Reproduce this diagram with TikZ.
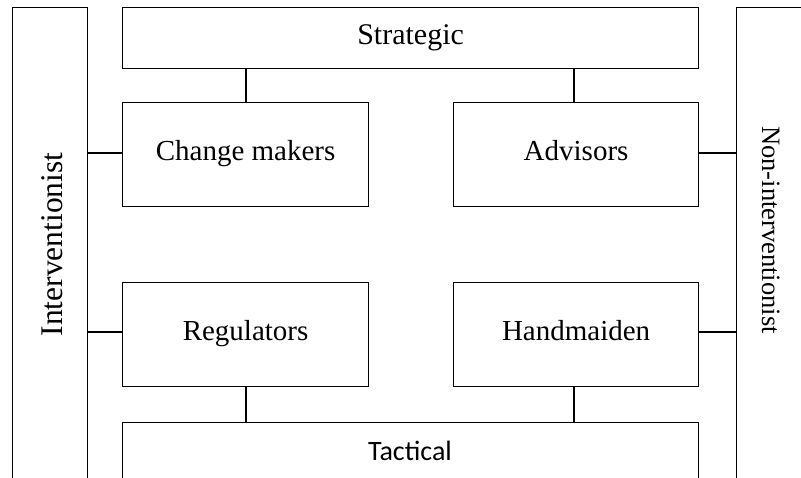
\documentclass[tikz,border=0pt]{standalone}
\usepackage{fontspec}
\setmainfont{Liberation Serif}
\newfontfamily\calib{Carlito}
\begin{document}
\begin{tikzpicture}[x=1pt,y=-1pt,
  box/.style={draw, line width=1.2pt, rectangle, inner sep=0pt, anchor=north west},
  lbl/.style={font=\fontsize{29}{34}\selectfont, inner sep=0pt, anchor=base},
  conn/.style={line width=1.2pt}]
\useasboundingbox (0,0) rectangle (801,477);
\clip (0,0) rectangle (801,477);
% side boxes
\node[box, minimum width=75pt, minimum height=490pt] (L) at (12,7) {};
\node[box, minimum width=75pt, minimum height=490pt] (R) at (736,7) {};
% main boxes
\node[box, minimum width=576pt, minimum height=61pt] (S) at (122,7) {};
\node[box, minimum width=246pt, minimum height=104pt] (CM) at (122,102) {};
\node[box, minimum width=245pt, minimum height=104pt] (AD) at (453,102) {};
\node[box, minimum width=246pt, minimum height=104pt] (RG) at (122,282) {};
\node[box, minimum width=245pt, minimum height=104pt] (HM) at (453,282) {};
\node[box, minimum width=576pt, minimum height=80pt] (T) at (122,422) {};
% labels
\node[lbl, font=\fontsize{30}{34}\selectfont] at ([yshift=-6pt]S.center) {Strategic};
\node[lbl] at ([yshift=-6pt]CM.center) {Change makers};
\node[lbl] at ([yshift=-6pt]AD.center) {Advisors};
\node[lbl] at ([yshift=-6pt]RG.center) {Regulators};
\node[lbl] at ([yshift=-6pt]HM.center) {Handmaiden};
\node[lbl, font=\calib\fontsize{28}{34}\selectfont] at (410,460) {Tactical};
\node[lbl, rotate=90, font=\fontsize{31.5}{34}\selectfont] at (62,244.5) {Interventionist};
\node[lbl, rotate=-90, font=\fontsize{26.5}{34}\selectfont] at (762,230) {Non-interventionist};
% connectors
\draw[conn] (S.south -| 246,0) -- (CM.north -| 246,0);
\draw[conn] (S.south -| 574,0) -- (AD.north -| 574,0);
\draw[conn] (RG.south -| 246,0) -- (T.north -| 246,0);
\draw[conn] (HM.south -| 574,0) -- (T.north -| 574,0);
\draw[conn] (L.east |- 0,153) -- (CM.west |- 0,153);
\draw[conn] (L.east |- 0,332) -- (RG.west |- 0,332);
\draw[conn] (AD.east |- 0,153) -- (R.west |- 0,153);
\draw[conn] (HM.east |- 0,332) -- (R.west |- 0,332);
\end{tikzpicture}
\end{document}
